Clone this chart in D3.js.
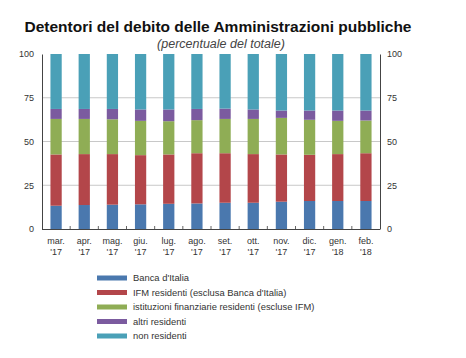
<!DOCTYPE html>
<html><head><meta charset="utf-8">
<script src="https://cdn.jsdelivr.net/npm/d3@7"></script>
<style>body{margin:0;background:#fff;} text{font-family:"Liberation Sans",Arial,sans-serif;}</style>
</head><body>
<svg id="c" width="466" height="358"></svg>
<script>
const months = ["mar.","apr.","mag.","giu.","lug.","ago.","set.","ott.","nov.","dic.","gen.","feb."];
const years = ["'17","'17","'17","'17","'17","'17","'17","'17","'17","'17","'18","'18"];
const seriesNames = ["Banca d'Italia","IFM residenti (esclusa Banca d'Italia)","istituzioni finanziarie residenti (escluse IFM)","altri residenti","non residenti"];
const colors = ["#4a78ae","#b3464a","#8fad55","#7b5b9f","#4aa0b7"];
const bancaItalia = [13.3,13.7,13.9,14.1,14.4,14.6,15.0,15.0,15.6,16.0,16.0,16.0];
const ifmResidenti = [29.3,29.1,28.9,28.1,28.2,28.7,28.3,27.8,27.0,26.4,26.8,27.3];
const istFinanziarie = [20.3,20.1,19.9,19.6,19.0,18.9,19.6,20.1,20.9,20.0,19.0,18.7];
const altriResidenti = [5.7,5.7,5.9,6.5,6.7,6.4,5.9,5.4,4.2,5.3,5.9,5.7];
const nonResidenti = [31.4,31.4,31.4,31.7,31.7,31.4,31.2,31.7,32.3,32.3,32.3,32.3];
const yTicks = [0,25,50,75,100];

const seriesData = [bancaItalia, ifmResidenti, istFinanziarie, altriResidenti, nonResidenti];
const rows = months.map((m,i)=>{const o={key:i}; seriesData.forEach((s,j)=>o["s"+j]=s[i]); return o;});
const stack = d3.stack().keys(seriesData.map((_,j)=>"s"+j))(rows);

const svg = d3.select("#c");
const L=42, R=380, T=54, B=229;
const x = d3.scaleBand().domain(d3.range(months.length)).range([L,R]).paddingInner(0.6).paddingOuter(0.3);
const y = d3.scaleLinear().domain([0,100]).range([B,T]);

// title
svg.append("text").attr("x",218).attr("y",32).attr("text-anchor","middle")
  .style("font-size","15.5px").style("font-weight","bold").attr("fill","#111")
  .text("Detentori del debito delle Amministrazioni pubbliche");
svg.append("text").attr("x",221).attr("y",48).attr("text-anchor","middle")
  .style("font-size","12.5px").style("font-style","italic").attr("fill","#444")
  .text("(percentuale del totale)");

// gridlines
svg.append("g").selectAll("line").data(yTicks.filter(d=>d>0&&d<100)).join("line")
  .attr("x1",L).attr("x2",R).attr("y1",d=>y(d)).attr("y2",d=>y(d))
  .attr("stroke","#c8c8c8").attr("stroke-width",1);

// bars
svg.append("g").selectAll("g").data(stack).join("g").attr("fill",(d,i)=>colors[i])
  .selectAll("rect").data(d=>d).join("rect")
  .attr("x",(d,i)=>x(i)).attr("width",x.bandwidth())
  .attr("y",d=>y(d[1])).attr("height",d=>y(d[0])-y(d[1]));

// axes
const la = svg.append("g").attr("transform",`translate(${L},0)`)
  .call(d3.axisLeft(y).tickValues(yTicks).tickSize(0).tickPadding(8));
const ra = svg.append("g").attr("transform",`translate(${R},0)`)
  .call(d3.axisRight(y).tickValues(yTicks).tickSize(0).tickPadding(7));
[la,ra].forEach(a=>{a.select(".domain").attr("stroke","#444");
  a.selectAll("text").style("font-size","9px").attr("fill","#333").style("font-family","Liberation Sans, Arial, sans-serif");});

// bottom axis line + ticks between bars
svg.append("line").attr("x1",L).attr("x2",R).attr("y1",B+0.5).attr("y2",B+0.5).attr("stroke","#444");
const step = x.step();
svg.append("g").selectAll("line").data(d3.range(1,months.length)).join("line")
  .attr("x1",d=>x(d)-step*x.paddingInner()/2).attr("x2",d=>x(d)-step*x.paddingInner()/2)
  .attr("y1",B).attr("y2",B-3).attr("stroke","#666");

// x labels
const xl = svg.append("g").selectAll("text").data(months).join("text")
  .attr("x",(d,i)=>x(i)+x.bandwidth()/2).attr("text-anchor","middle")
  .style("font-size","9px").attr("fill","#333");
xl.append("tspan").attr("x",(d,i)=>x(i)+x.bandwidth()/2).attr("y",244).text(d=>d);
xl.append("tspan").attr("x",(d,i)=>x(i)+x.bandwidth()/2).attr("y",255).text((d,i)=>years[i]);

// legend
const lg = svg.append("g").selectAll("g").data(seriesNames).join("g")
  .attr("transform",(d,i)=>`translate(97,${278+i*14.5})`);
lg.append("rect").attr("x",0).attr("y",-2.5).attr("width",30).attr("height",5).attr("fill",(d,i)=>colors[i]);
lg.append("text").attr("x",36).attr("y",3.2).style("font-size","9.4px").attr("fill","#333").text(d=>d);
</script>
</body></html>
